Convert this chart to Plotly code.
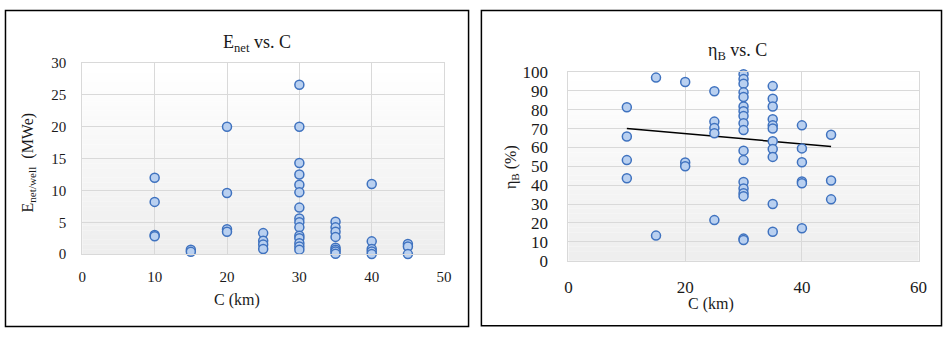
import plotly.graph_objects as go

W, H = 951, 338

# ---------------- data ----------------
enet_C = [10, 10, 10, 10,
          15, 15,
          20, 20, 20, 20,
          25, 25, 25, 25,
          30, 30, 30, 30, 30, 30, 30, 30, 30, 30, 30, 30, 30, 30, 30,
          35, 35, 35, 35, 35, 35, 35, 35,
          40, 40, 40, 40, 40,
          45, 45, 45]
enet_vals = [12.0, 8.2, 3.0, 2.8,
             0.7, 0.35,
             20.0, 9.6, 3.9, 3.5,
             3.3, 2.1, 1.5, 0.8,
             26.6, 20.0, 14.3, 12.5, 10.9, 9.7, 7.3, 5.6, 5.0, 4.2, 2.9, 2.5, 1.7, 1.2, 0.7,
             5.1, 4.2, 3.5, 2.7, 1.0, 0.7, 0.4, 0.05,
             11.0, 2.0, 0.8, 0.4, 0.0,
             1.6, 1.2, 0.0]

eta_C = [10, 10, 10, 10,
         15, 15,
         20, 20, 20,
         25, 25, 25, 25, 25,
         30, 30, 30, 30, 30, 30, 30, 30, 30, 30, 30, 30, 30, 30, 30, 30, 30, 30,
         35, 35, 35, 35, 35, 35, 35, 35, 35, 35, 35,
         40, 40, 40, 40, 40, 40,
         45, 45, 45]
eta_vals = [81.3, 65.8, 53.3, 43.7,
            97.0, 13.3,
            94.7, 52.0, 50.0,
            89.8, 73.7, 70.3, 67.5, 21.5,
            98.8, 96.2, 93.8, 89.2, 86.7, 81.7, 79.2, 76.7, 72.8, 69.2, 58.3, 53.3, 41.7, 38.3, 35.8, 34.2, 11.7, 11.0,
            92.5, 85.8, 81.7, 75.0, 71.7, 70.0, 63.3, 59.2, 55.0, 30.0, 15.3,
            71.7, 59.5, 52.2, 42.0, 41.0, 17.2,
            66.7, 42.5, 32.5]

# trendline end points
trend_C = [10, 45]
trend_eta = [70.0, 60.5]

enet_xticks = [0, 10, 20, 30, 40, 50]
enet_yticks = [0, 5, 10, 15, 20, 25, 30]
eta_xticks = [0, 20, 40, 60]
eta_yticks = [0, 10, 20, 30, 40, 50, 60, 70, 80, 90, 100]

# ---------------- styling ----------------
FONT = "Liberation Serif, DejaVu Serif, serif"
MFILL = "#b9d0f0"
MLINE = "#3f72bf"
GRID = "#d9d9d9"
TXT = "#1a1a1a"

def px_x(p):
    return p / W

def px_y(p):
    return 1 - p / H

marker = dict(symbol="circle", size=9, color=MFILL, line=dict(color=MLINE, width=1.5))

fig = go.Figure()
fig.add_trace(go.Scatter(x=enet_C, y=enet_vals, mode="markers", marker=marker,
                         xaxis="x", yaxis="y", showlegend=False, cliponaxis=False))
fig.add_trace(go.Scatter(x=trend_C, y=trend_eta, mode="lines", line=dict(color="black", width=1.5),
                         xaxis="x2", yaxis="y2", showlegend=False))
fig.add_trace(go.Scatter(x=eta_C, y=eta_vals, mode="markers", marker=marker,
                         xaxis="x2", yaxis="y2", showlegend=False, cliponaxis=False))

# plot-area pixel boxes
L = dict(x0=79.3, x1=445.7, y0=57.3, y1=259.7)
R = dict(x0=571.7, x1=926.3, y0=66.7, y1=266.7)

def axis(domain, rng, ticks, size, standoff, anchor):
    return dict(domain=domain, range=rng, tickvals=ticks, showgrid=True, gridcolor=GRID,
                gridwidth=1.3, zeroline=False, showline=True, linecolor=GRID, linewidth=1.3,
                mirror=True, ticks="", tickfont=dict(family=FONT, size=size, color=TXT),
                ticklabelstandoff=standoff, fixedrange=True, anchor=anchor)

shapes = []
# gradient backgrounds
for xr, yr in (("x", "y"), ("x2", "y2")):
    n = 40
    for i in range(n):
        t = i / (n - 1)
        c = int(round(255 - 17 * t))
        shapes.append(dict(type="rect", xref=f"{xr} domain", yref=f"{yr} domain",
                           x0=0, x1=1, y0=1 - (i + 1) / n, y1=1 - i / n,
                           fillcolor=f"rgb({c},{c},{c})", line=dict(width=0), layer="below"))
# outer frames
shapes.append(dict(type="rect", xref="paper", yref="paper", x0=px_x(1.5), x1=px_x(470.5),
                   y0=px_y(336.5), y1=px_y(1.5), line=dict(color="black", width=1.5)))
shapes.append(dict(type="rect", xref="paper", yref="paper", x0=px_x(483.5), x1=px_x(949.5),
                   y0=px_y(335.5), y1=px_y(1.5), line=dict(color="black", width=1.5)))

def ann(text, x, y, size, angle=0):
    return dict(text=text, x=px_x(x), y=px_y(y), xref="paper", yref="paper", showarrow=False,
                textangle=angle, font=dict(family=FONT, size=size, color=TXT),
                xanchor="center", yanchor="middle")

annotations = [
    ann("E<sub>net</sub> vs. C", 256.7, 37, 18),
    ann("C (km)", 236, 308, 16),
    ann("E<sub>net/well</sub>  (MWe)", 25, 163, 16, -90),
    ann("η<sub>B</sub> vs. C", 742.7, 45, 18),
    ann("C (km)", 716, 313, 16),
    ann("η<sub>B</sub> (%)", 514, 168, 16, -90),
]

fig.update_layout(
    width=W, height=H, margin=dict(l=0, r=0, t=0, b=0),
    paper_bgcolor="white", plot_bgcolor="rgba(0,0,0,0)",
    xaxis=axis([px_x(L["x0"]), px_x(L["x1"])], [0, 50], enet_xticks, 15, 9, "y"),
    yaxis=axis([px_y(L["y1"]), px_y(L["y0"])], [0, 30], enet_yticks, 15, 12, "x"),
    xaxis2=axis([px_x(R["x0"]), px_x(R["x1"])], [0, 60], eta_xticks, 17, 11, "y2"),
    yaxis2=axis([px_y(R["y1"]), px_y(R["y0"])], [0, 100], eta_yticks, 17, 16, "x2"),
    shapes=shapes, annotations=annotations,
)

fig.write_html("out.html")
